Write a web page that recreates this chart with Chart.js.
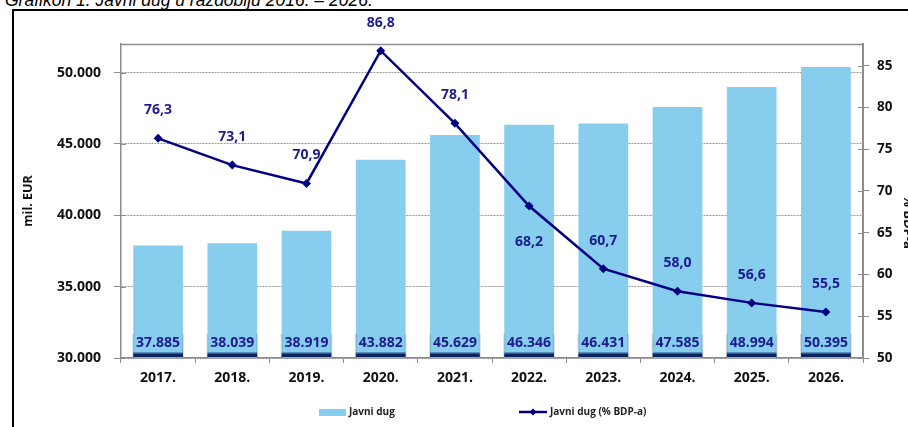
<!DOCTYPE html>
<html>
<head>
<meta charset="utf-8">
<script src="https://cdn.jsdelivr.net/npm/chart.js@4.4.1/dist/chart.umd.min.js"></script>
<style>
  html, body { margin: 0; padding: 0; background: #fff; width: 908px; height: 427px; overflow: hidden; position: relative; }
  #frame { position: absolute; left: 12px; top: 9px; width: 1000px; height: 600px; border-left: 2px solid #000; border-top: 2px solid #000; }
  #title { position: absolute; left: 5px; top: -10px; font-family: "Liberation Sans", Arial, sans-serif; font-style: italic; font-size: 17.5px; color: #000; white-space: nowrap; }
  #c { position: absolute; left: 0; top: 0; }
</style>
</head>
<body>
<div id="frame"></div>
<div id="title">Grafikon 1. Javni dug u razdoblju 2016. – 2026.</div>
<canvas id="c" width="921" height="427"></canvas>
<script>
// ---- data ----
const categories = ['2017.', '2018.', '2019.', '2020.', '2021.', '2022.', '2023.', '2024.', '2025.', '2026.'];
const debtMilEur = [37885, 38039, 38919, 43882, 45629, 46346, 46431, 47585, 48994, 50395];
const debtPctGdp = [76.3, 73.1, 70.9, 86.8, 78.1, 68.2, 60.7, 58.0, 56.6, 55.5];
const leftTicks = [30000, 35000, 40000, 45000, 50000];
const rightTicks = [50, 55, 60, 65, 70, 75, 80, 85];
const pctLabelPlacement = ['above', 'above', 'above', 'above', 'above', 'below', 'above', 'above', 'above', 'above'];
const seriesNames = ['Javni dug', 'Javni dug (% BDP-a)'];
const axisTitles = ['mil. EUR', '% BDP-a'];

// ---- styles ----
const BAR_COLOR = '#86CDEE';
const LINE_COLOR = '#000080';
const LABEL_COLOR = '#1c1c8c';
const AXIS_COLOR = '#8c8c8c';
const FONT = '"Open Sans", "Liberation Sans", Arial, sans-serif';

function fmtThousands(v) {
  return String(Math.round(v)).replace(/\B(?=(\d{3})+(?!\d))/g, '.');
}
function fmtDecimal(v) {
  return v.toFixed(1).replace('.', ',');
}

const barLabelPlugin = {
  id: 'barLabels',
  afterDatasetDraw(chart, args) {
    if (args.index !== 0) return;
    const ctx = chart.ctx;
    const base = chart.chartArea.bottom;
    ctx.save();
    args.meta.data.forEach((bar, i) => {
      const p = bar.getProps(['x', 'width'], true);
      const left = p.x - p.width / 2;
      const w = p.width;
      const h = 26;
      const top = base - h;
      ctx.fillStyle = 'rgba(60,60,90,0.18)';
      ctx.fillRect(left - 1, top + 2, w + 2, h - 2);
      ctx.fillStyle = BAR_COLOR;
      ctx.fillRect(left + 1, top, w - 2, h - 1);
      const g = ctx.createLinearGradient(0, base - 6, 0, base - 1);
      g.addColorStop(0, 'rgba(10,36,97,0.2)');
      g.addColorStop(0.5, '#0a2461');
      g.addColorStop(1, '#0a2461');
      ctx.fillStyle = g;
      ctx.fillRect(left, base - 6, w, 5);
      ctx.fillStyle = LABEL_COLOR;
      ctx.font = 'bold 14px ' + FONT;
      ctx.textAlign = 'center';
      ctx.textBaseline = 'middle';
      ctx.fillText(fmtThousands(debtMilEur[i]), p.x, base - 15);
    });
    ctx.restore();
  }
};

const lineLabelPlugin = {
  id: 'lineLabels',
  afterDatasetsDraw(chart) {
    const ctx = chart.ctx;
    const meta = chart.getDatasetMeta(1);
    ctx.save();
    ctx.fillStyle = LABEL_COLOR;
    ctx.font = 'bold 14px ' + FONT;
    ctx.textAlign = 'center';
    ctx.textBaseline = 'middle';
    meta.data.forEach((pt, i) => {
      const dy = pctLabelPlacement[i] === 'below' ? 36 : -28;
      ctx.fillText(fmtDecimal(debtPctGdp[i]), pt.x, pt.y + dy);
    });
    ctx.restore();
  }
};

const frameTicksPlugin = {
  id: 'frameTicks',
  afterDraw(chart) {
    const ctx = chart.ctx;
    const a = chart.chartArea;
    ctx.save();
    ctx.strokeStyle = AXIS_COLOR;
    ctx.lineWidth = 1.5;
    ctx.beginPath();
    ctx.moveTo(a.left, a.top + 0.5);
    ctx.lineTo(a.right, a.top + 0.5);
    ctx.stroke();
    ctx.lineWidth = 1;
    const yl = chart.scales.y, yr = chart.scales.y1;
    yl.ticks.forEach(t => {
      const y = Math.round(yl.getPixelForValue(t.value)) + 0.5;
      ctx.beginPath(); ctx.moveTo(a.left, y); ctx.lineTo(a.left + 5, y); ctx.stroke();
    });
    yr.ticks.forEach(t => {
      const y = Math.round(yr.getPixelForValue(t.value)) + 0.5;
      ctx.beginPath(); ctx.moveTo(a.right - 5, y); ctx.lineTo(a.right, y); ctx.stroke();
    });
    // secondary axis title (partly outside the frame, as in the source)
    ctx.translate(908, 222);
    ctx.rotate(Math.PI / 2);
    ctx.fillStyle = '#111';
    ctx.font = 'bold 13px ' + FONT;
    ctx.textAlign = 'center';
    ctx.textBaseline = 'middle';
    ctx.fillText(axisTitles[1], 0, 0);
    ctx.restore();
  }
};

const legendPlugin = {
  id: 'customLegend',
  afterDraw(chart) {
    const ctx = chart.ctx;
    const y = 412;
    ctx.save();
    ctx.font = 'bold 10px ' + FONT;
    ctx.textBaseline = 'middle';
    ctx.textAlign = 'left';
    ctx.fillStyle = BAR_COLOR;
    ctx.fillRect(319, y - 3, 27, 7);
    ctx.fillStyle = '#222';
    ctx.fillText(chart.data.datasets[0].label, 349, y);
    ctx.strokeStyle = LINE_COLOR;
    ctx.lineWidth = 2.5;
    ctx.beginPath(); ctx.moveTo(519, y); ctx.lineTo(547, y); ctx.stroke();
    ctx.fillStyle = LINE_COLOR;
    ctx.beginPath();
    ctx.moveTo(533, y - 3.5); ctx.lineTo(536.5, y); ctx.lineTo(533, y + 3.5); ctx.lineTo(529.5, y);
    ctx.closePath(); ctx.fill();
    ctx.fillStyle = '#222';
    ctx.fillText(chart.data.datasets[1].label, 550, y);
    ctx.restore();
  }
};

new Chart(document.getElementById('c'), {
  data: {
    labels: categories,
    datasets: [
      {
        type: 'bar',
        label: seriesNames[0],
        data: debtMilEur,
        backgroundColor: BAR_COLOR,
        borderWidth: 0,
        categoryPercentage: 1.0,
        barPercentage: 0.67,
        yAxisID: 'y',
        order: 2
      },
      {
        type: 'line',
        label: seriesNames[1],
        data: debtPctGdp,
        borderColor: LINE_COLOR,
        backgroundColor: LINE_COLOR,
        borderWidth: 2.5,
        pointStyle: 'rectRot',
        pointRadius: 4.5,
        pointBackgroundColor: LINE_COLOR,
        pointBorderColor: LINE_COLOR,
        pointBorderWidth: 0,
        tension: 0,
        clip: false,
        yAxisID: 'y1',
        order: 1
      }
    ]
  },
  options: {
    responsive: false,
    animation: false,
    devicePixelRatio: 1,
    layout: { padding: { top: 44, left: 20, right: 0, bottom: 0 } },
    plugins: { legend: { display: false }, tooltip: { enabled: false }, title: { display: false } },
    scales: {
      x: {
        type: 'category',
        offset: true,
        grid: { offset: true, drawOnChartArea: false, drawTicks: true, tickLength: 5, color: AXIS_COLOR },
        border: { display: true, color: AXIS_COLOR, width: 1.5 },
        ticks: { color: '#111', font: { family: FONT, size: 14, weight: 'bold' }, padding: 7, maxRotation: 0 },
        afterFit(s) { s.height = 69; }
      },
      y: {
        type: 'linear',
        position: 'left',
        min: 30000,
        max: 52000,
        afterBuildTicks(s) { s.ticks = leftTicks.map(v => ({ value: v })); },
        grid: { color: '#9a9a9a', lineWidth: 1, drawTicks: true, tickLength: 7, tickColor: AXIS_COLOR, tickBorderDash: [] },
        border: { display: true, color: AXIS_COLOR, width: 1.5, dash: [2, 1] },
        ticks: { color: '#111', font: { family: FONT, size: 14, weight: 'bold' }, padding: 13, callback: v => fmtThousands(v) },
        title: { display: true, text: axisTitles[0], color: '#111', font: { family: FONT, size: 12.5, weight: 'bold' }, padding: { top: 1, bottom: 0 } },
        afterFit(s) { s.width = 101; }
      },
      y1: {
        type: 'linear',
        position: 'right',
        min: 50,
        max: 87.6,
        afterBuildTicks(s) { s.ticks = rightTicks.map(v => ({ value: v })); },
        grid: { drawOnChartArea: false, drawTicks: true, tickLength: 6, color: AXIS_COLOR },
        border: { display: true, color: AXIS_COLOR, width: 2 },
        ticks: { color: '#111', font: { family: FONT, size: 13.5, weight: 'bold' }, padding: 8, callback: v => String(v) },
        title: { display: false },
        afterFit(s) { s.width = 58; }
      }
    }
  },
  plugins: [barLabelPlugin, lineLabelPlugin, frameTicksPlugin, legendPlugin]
});
</script>
</body>
</html>
